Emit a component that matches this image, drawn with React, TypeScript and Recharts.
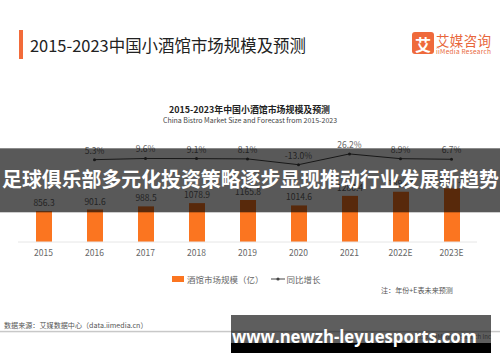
import React from "react";
import {
  ComposedChart,
  Bar,
  Line,
  XAxis,
  YAxis,
  Legend,
  LabelList,
} from "recharts";

const YEARS = ["2015", "2016", "2017", "2018", "2019", "2020", "2021", "2022E", "2023E"];
const MARKET_SIZE = [856.3, 901.6, 988.5, 1078.9, 1165.8, 1014.6, 1280.4, 1394.4, 1487.8];
const GROWTH = [null, 5.3, 9.6, 9.1, 8.1, -13.0, 26.2, 8.9, 6.7];

const SIZE_NAME = "酒馆市场规模（亿）";
const GROWTH_NAME = "同比增长";

const data = YEARS.map((year, i) => ({
  year,
  size: MARKET_SIZE[i],
  growth: GROWTH[i],
}));

const FONT = "'Noto Sans CJK SC', 'Noto Sans', sans-serif";
const ORANGE = "#fb7520";

const renderLegend = () => (
  <div
    style={{
      display: "flex",
      alignItems: "center",
      paddingLeft: 172,
      fontSize: 8.5,
      color: "#666",
      lineHeight: "12px",
    }}
  >
    <span style={{ display: "inline-block", width: 12, height: 6, background: ORANGE, marginRight: 3 }} />
    <span>{SIZE_NAME}</span>
    <svg width={14} height={6} style={{ marginLeft: 7, marginRight: 2 }}>
      <line x1={0} y1={3} x2={14} y2={3} stroke="#444" strokeWidth={1} />
      <circle cx={7} cy={3} r={1.6} fill="#444" />
    </svg>
    <span>{GROWTH_NAME}</span>
  </div>
);

export default function App() {
  return (
    <div
      style={{
        position: "absolute",
        left: 0,
        top: 0,
        width: 500,
        height: 362,
        background: "#fff",
        fontFamily: FONT,
        overflow: "hidden",
      }}
    >
      <ComposedChart
        width={500}
        height={362}
        data={data}
        margin={{ top: 140, right: 23, bottom: 78, left: 18 }}
      >
        <XAxis
          dataKey="year"
          axisLine={{ stroke: "#e6e6e6" }}
          tickLine={false}
          interval={0}
          tick={{ fill: "#666", fontSize: 8.5 }}
        />
        <YAxis yAxisId="bar" hide domain={[0, 2830]} />
        <YAxis yAxisId="line" hide orientation="right" domain={[-295, 77]} />
        <Legend
          content={renderLegend}
          wrapperStyle={{ position: "absolute", left: 0, top: 273, width: 500 }}
        />
        <Bar
          yAxisId="bar"
          dataKey="size"
          name={SIZE_NAME}
          fill={ORANGE}
          barSize={16}
          isAnimationActive={false}
        >
          <LabelList dataKey="size" position="top" offset={5} fill="#666" fontSize={8.5} />
        </Bar>
        <Line
          yAxisId="line"
          type="linear"
          dataKey="growth"
          name={GROWTH_NAME}
          stroke="#444"
          strokeWidth={1}
          dot={{ r: 1.5, fill: "#444", stroke: "#444", strokeWidth: 0 }}
          isAnimationActive={false}
        >
          <LabelList
            dataKey="growth"
            position="top"
            offset={6}
            fill="#666"
            fontSize={8.5}
            formatter={(v: any) => (v == null ? "" : `${Number(v).toFixed(1)}%`)}
          />
        </Line>
      </ComposedChart>

      <svg
        width={500}
        height={362}
        style={{ position: "absolute", left: 0, top: 0, pointerEvents: "none" }}
      >
        {/* header */}
        <rect x={19} y={30} width={4} height={29} fill="#f26b3a" />
        <text
          x={30}
          y={44.5}
          fontSize={16.5}
          fill="#222"
          dominantBaseline="central"
          textLength={276}
          lengthAdjust="spacingAndGlyphs"
        >
          2015-2023中国小酒馆市场规模及预测
        </text>
        <rect x={412} y={32} width={22} height={22} rx={3} fill="#ef6a3b" />
        <text x={423} y={43.5} fontSize={16} fontWeight="bold" fill="#fff" textAnchor="middle" dominantBaseline="central">
          艾
        </text>
        <text x={436} y={39.5} fontSize={13.5} fill="#e8663a" dominantBaseline="central" textLength={55}>
          艾媒咨询
        </text>
        <text x={436} y={51} fontSize={6.5} fill="#e8663a" dominantBaseline="central" textLength={55}>
          iiMedia Research
        </text>

        {/* inner titles */}
        <text
          x={169}
          y={109.5}
          fontSize={9}
          fontWeight="bold"
          fill="#222"
          dominantBaseline="central"
          textLength={161}
          lengthAdjust="spacingAndGlyphs"
        >
          2015-2023年中国小酒馆市场规模及预测
        </text>
        <text x={250} y={120} fontSize={7} fill="#444" textAnchor="middle" dominantBaseline="central">
          China Bistro Market Size and Forecast from 2015-2023
        </text>

        {/* notes and footer */}
        <text x={381} y={290} fontSize={7.1} fill="#555" dominantBaseline="central">
          注：年份+E表未来预测
        </text>
        <text x={4} y={325} fontSize={7.1} fill="#555" dominantBaseline="central">
          数据来源：艾媒数据中心（data.iimedia.cn）
        </text>
        <rect x={0} y={330.8} width={500} height={1.5} fill="#c8c8c8" />
        <text x={491} y={336} fontSize={6} fill="#888" textAnchor="end" dominantBaseline="central">
          ©2020.1 iiMedia Research Inc
        </text>

        {/* banner overlay */}
        <rect x={0} y={148.3} width={500} height={64} fill="rgba(0,0,0,0.65)" />
        <text
          x={2}
          y={178}
          fontSize={20.5}
          fontWeight="bold"
          fill="#fff"
          dominantBaseline="central"
          textLength={497}
          lengthAdjust="spacingAndGlyphs"
        >
          足球俱乐部多元化投资策略逐步显现推动行业发展新趋势
        </text>

        {/* watermark box */}
        <rect x={231} y={315} width={260} height={28} fill="rgba(0,0,0,0.63)" />
        <rect x={231} y={343} width={260} height={10} fill="#000" />
        <text
          x={232}
          y={342.5}
          fontSize={18}
          fontWeight="bold"
          fill="#fff"
          fontFamily="'Open Sans', sans-serif"
          textLength={245}
          lengthAdjust="spacingAndGlyphs"
        >
          www.newzh-leyuesports.com
        </text>
      </svg>
    </div>
  );
}
